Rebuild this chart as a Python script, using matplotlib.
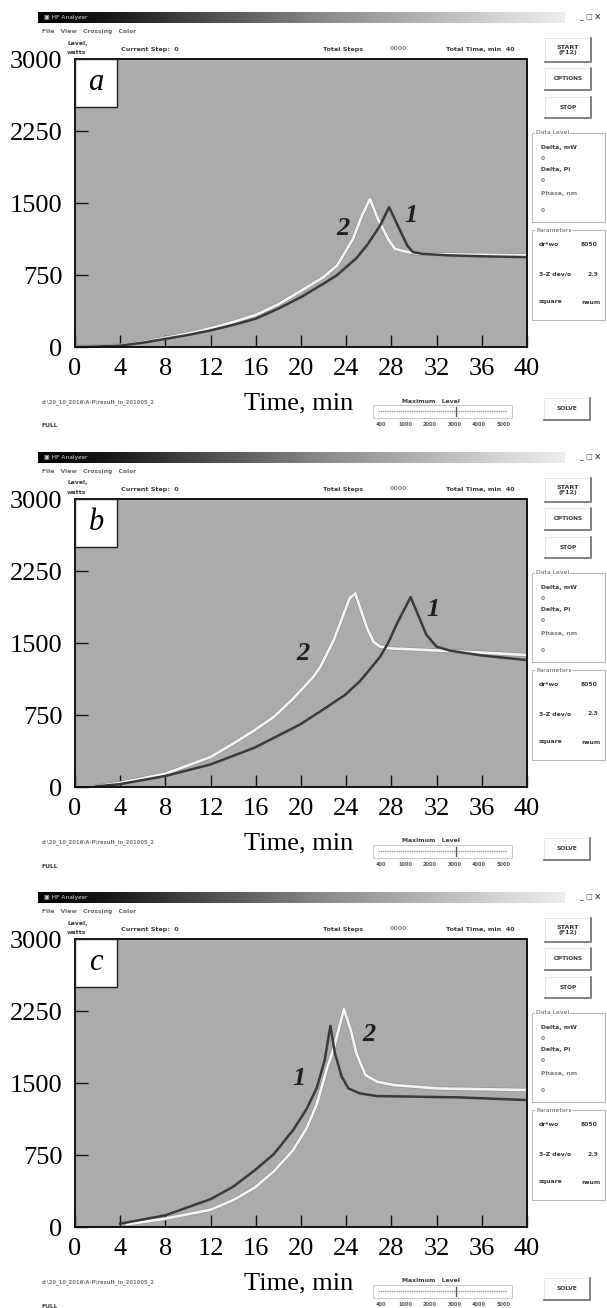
import matplotlib.pyplot as plt
import numpy as np
from matplotlib.colors import LinearSegmentedColormap
from matplotlib.patches import Rectangle
from matplotlib.lines import Line2D
import matplotlib.patheffects as pe

W, H = 607, 1308
PERIOD = 440

time_ticks = np.arange(0, 41, 4)
level_ticks = np.arange(0, 3001, 750)
panel_letters = ['a', 'b', 'c']

# panel a
a1_t = [0, 2, 4, 6, 8, 10, 12, 14, 16, 18, 20, 22, 23.2, 24.9, 25.9, 27.0, 27.8, 28.7, 29.4, 29.9, 30.7, 33, 36, 40]
a1_v = [0, 5, 15, 45, 85, 125, 173, 230, 295, 400, 520, 660, 750, 925, 1070, 1266, 1457, 1231, 1058, 988, 971, 955, 945, 936]
a2_t = [0, 2, 4, 6, 8, 10, 12, 14, 16, 18, 20, 22, 23.2, 24.6, 25.4, 26.1, 26.8, 27.7, 28.3, 29.2, 30.4, 33, 36, 40]
a2_v = [0, 5, 17, 50, 95, 140, 195, 260, 335, 445, 585, 730, 850, 1127, 1370, 1543, 1335, 1127, 1023, 995, 971, 965, 960, 954]

# panel b
b1_t = [1.9, 4, 8, 12, 15.9, 19.9, 22, 23.9, 25.2, 26.4, 27.0, 27.7, 28.5, 29.7, 30.3, 31.1, 32.0, 33.2, 36, 40]
b1_v = [7, 30, 115, 235, 410, 650, 810, 960, 1100, 1270, 1357, 1497, 1705, 1977, 1810, 1584, 1462, 1420, 1370, 1322]
b2_t = [1.9, 4, 8, 12, 14, 15.9, 17.6, 19.3, 21.1, 21.7, 22.9, 23.8, 24.3, 24.8, 25.2, 25.8, 26.4, 27.0, 27.9, 31.1, 36, 40]
b2_v = [7, 42, 139, 313, 452, 592, 731, 920, 1150, 1250, 1531, 1810, 1966, 2018, 1879, 1670, 1514, 1462, 1444, 1427, 1400, 1375]

# panel c
c1_t = [4, 8, 12, 14, 15.9, 17.6, 19.3, 20.5, 21.4, 22.1, 22.6, 23.0, 23.6, 24.2, 25.2, 26.7, 34.1, 40]
c1_v = [35, 122, 290, 420, 590, 760, 1010, 1230, 1450, 1740, 2095, 1810, 1566, 1444, 1392, 1364, 1350, 1322]
c2_t = [4.6, 8, 12, 14, 15.9, 17.6, 19.3, 20.5, 21.4, 22.3, 22.9, 23.8, 24.4, 24.9, 25.7, 26.7, 28.2, 32, 40]
c2_v = [28, 87, 180, 280, 410, 580, 800, 1030, 1280, 1650, 1862, 2269, 2053, 1810, 1584, 1514, 1479, 1444, 1427]

curves = [((a1_t, a1_v), (a2_t, a2_v)),
          ((b1_t, b1_v), (b2_t, b2_v)),
          ((c1_t, c1_v), (c2_t, c2_v))]

# curve number labels (time, level)
labels_1 = [(29.7, 1370), (31.7, 1845), (19.8, 1549)]
labels_2 = [(23.7, 1231), (20.2, 1392), (26.0, 2001)]

fig = plt.figure(figsize=(W / 100, H / 100), dpi=100)
fig.patch.set_facecolor('white')

serif = ['Liberation Serif', 'DejaVu Serif']
ui_col = '#3c3c3c'


def fx(x):
    return x / W


def fy(y):
    return 1 - y / H


def ui_text(x, y, s, size=4.8, **kw):
    fig.text(fx(x), fy(y), s, fontsize=size, color=kw.pop('color', ui_col),
             fontweight='bold', va='center', family='DejaVu Sans', **kw)


def fline(xs, ys, **kw):
    fig.add_artist(Line2D([fx(x) for x in xs], [fy(y) for y in ys],
                          transform=fig.transFigure, **kw))


def button(x0, y0, x1, y1, label, size=4.6):
    fig.add_artist(Rectangle((fx(x0), fy(y1)), (x1 - x0) / W, (y1 - y0) / H,
                             transform=fig.transFigure, facecolor='white',
                             edgecolor='#e2e2e2', lw=0.6))
    fline([x0, x1, x1], [y1, y1, y0], color='#6e6e6e', lw=1.2)
    ui_text((x0 + x1) / 2, (y0 + y1) / 2, label, size=size, ha='center',
            linespacing=1.0)


def group(x0, y0, x1, y1, title):
    fig.add_artist(Rectangle((fx(x0), fy(y1)), (x1 - x0) / W, (y1 - y0) / H,
                             transform=fig.transFigure, facecolor='none',
                             edgecolor='#b8b8b8', lw=0.8))
    fig.text(fx(x0 + 4), fy(y0), title, fontsize=4.4, color='#5a5a5a',
             va='center', family='DejaVu Sans',
             bbox=dict(facecolor='white', edgecolor='none', pad=0.5))


bar_cmap = LinearSegmentedColormap.from_list(
    'bar', [(0, '#000000'), (0.12, '#141414'), (0.55, '#8c8c8c'), (1, '#eeeeee')])

for k in range(3):
    y0 = PERIOD * k

    # title bar
    tb = fig.add_axes([fx(38), fy(y0 + 23), (565 - 38) / W, 11 / H])
    tb.imshow(np.linspace(0, 1, 256)[None, :], aspect='auto', cmap=bar_cmap)
    tb.axis('off')
    fig.text(fx(44), fy(y0 + 17.5), '\u25a3 HF Analyzer', fontsize=4.3,
             color='#dddddd', va='center', family='DejaVu Sans')
    ui_text(580, y0 + 17, '_ \u25a1 X', size=5, color='#555555')

    # menu and top line
    ui_text(42, y0 + 31, 'File   View   Crossing   Color', size=4.3,
            color='#6a6a6a')
    ui_text(67, y0 + 43, 'Level,', size=4.4)
    ui_text(67, y0 + 52, 'watts', size=4.4)
    ui_text(121, y0 + 49, 'Current Step:  0', size=4.6)
    ui_text(323, y0 + 49, 'Total Steps', size=4.6)
    ui_text(390, y0 + 49, '0000', size=4.6, color='#8a8a8a')
    ui_text(446, y0 + 49, 'Total Time, min  40', size=4.6)

    # right-hand controls
    button(545, y0 + 38, 591, y0 + 62, 'START\n(F12)')
    button(545, y0 + 68, 591, y0 + 90, 'OPTIONS', size=4.2)
    button(545, y0 + 97, 591, y0 + 118, 'STOP', size=4.2)
    group(532, y0 + 133, 605, y0 + 222, 'Data Level')
    ui_text(541, y0 + 148, 'Delta, mW', size=4.4)
    ui_text(541, y0 + 159, '0', size=4.2, color='#7a7a7a')
    ui_text(541, y0 + 170, 'Delta, Pi', size=4.4)
    ui_text(541, y0 + 181, '0', size=4.2, color='#7a7a7a')
    ui_text(541, y0 + 193, 'Phase, nm', size=4.4, color='#7a7a7a')
    ui_text(541, y0 + 210, '0', size=4.2, color='#7a7a7a')
    group(532, y0 + 230, 605, y0 + 320, 'Parameters')
    ui_text(539, y0 + 245, 'dr*wo', size=4.4)
    ui_text(581, y0 + 245, '8050', size=4.4)
    ui_text(539, y0 + 274, '3-Z dev/o', size=4.4)
    ui_text(588, y0 + 274, '2.3', size=4.4)
    ui_text(539, y0 + 302, 'square', size=4.4)
    ui_text(581, y0 + 302, 'neum', size=4.4)

    # bottom line
    ui_text(42, y0 + 402, 'd:\\20_10_2016\\A-P\\rezult_in_201005_2', size=3.8,
            color='#7a7a7a')
    ui_text(42, y0 + 426, 'FULL', size=4.4)
    ui_text(431, y0 + 401, 'Maximum   Level', size=4.4, ha='center')
    fig.add_artist(Rectangle((fx(373), fy(y0 + 418)), 139 / W, 13 / H,
                             transform=fig.transFigure, facecolor='none',
                             edgecolor='#c8c8c8', lw=0.7))
    fline([378, 507], [y0 + 411, y0 + 411], color='#9a9a9a', lw=1.0, ls=(0, (1, 0.6)))
    fline([456, 456], [y0 + 407, y0 + 416], color='#555555', lw=1.0)
    for j, s in enumerate(['400', '1000', '2000', '3000', '4000', '5000']):
        ui_text(381 + j * 24.5, y0 + 424, s, size=3.6, ha='center',
                color='#555555')
    button(544, y0 + 398, 590, y0 + 420, 'SOLVE', size=4.3)

    # plot area
    ax = fig.add_axes([fx(75), fy(y0 + 347), 452 / W, 288 / H])
    ax.set_facecolor('#ababab')
    (t1, v1), (t2, v2) = curves[k]
    ax.plot(t2, v2, color='#f4f4f4', lw=1.9, solid_joinstyle='round',
            path_effects=[pe.withStroke(linewidth=2.9, foreground='#939393')])
    ax.plot(t1, v1, color='#3a3a3a', lw=1.8, solid_joinstyle='round')
    ax.set_xlim(0, 40)
    ax.set_ylim(0, 3000)
    ax.set_xticks(time_ticks)
    ax.set_yticks(level_ticks)
    ax.tick_params(direction='in', length=9, width=1.0, color='#111111',
                   labelsize=19, pad=8)
    ax.tick_params(axis='y', pad=9)
    for lab in ax.get_xticklabels() + ax.get_yticklabels():
        lab.set_family(serif)
    for sp in ax.spines.values():
        sp.set_linewidth(1.4)
        sp.set_color('#111111')

    ax.add_patch(Rectangle((0, 1 - 48 / 288), 42 / 452, 48 / 288,
                           transform=ax.transAxes, facecolor='white',
                           edgecolor='#222222', lw=1.0, zorder=5))
    ax.text(21 / 452, 1 - 24 / 288, panel_letters[k], transform=ax.transAxes,
            ha='center', va='center', fontsize=22, style='italic',
            family=serif, zorder=6)
    for lab, pos in (('1', labels_1[k]), ('2', labels_2[k])):
        ax.text(pos[0], pos[1], lab, ha='center', va='center', fontsize=19,
                style='italic', fontweight='bold', family=serif,
                color='#1e1e1e')

    fig.text(fx(299), fy(y0 + 403), 'Time, min', ha='center', va='center',
             fontsize=19, family=serif)

fig.savefig('out.png', dpi=100)
